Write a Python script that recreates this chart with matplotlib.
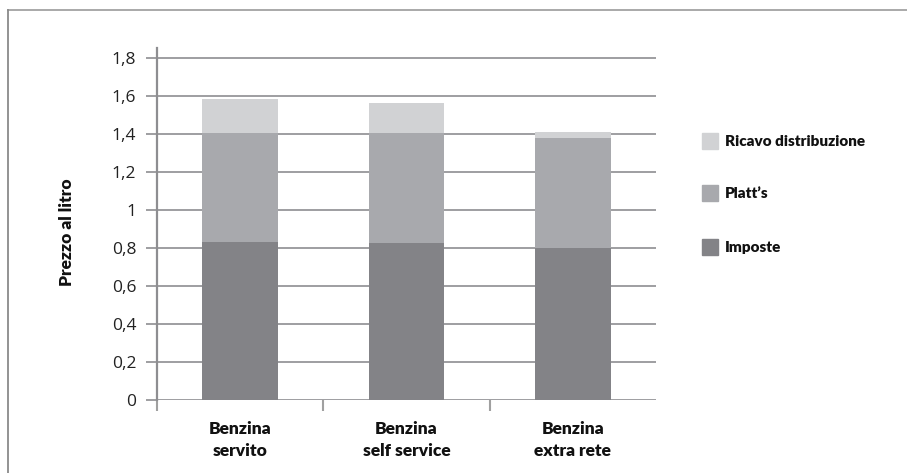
import matplotlib
matplotlib.use("Agg")
import matplotlib.pyplot as plt
from matplotlib.patches import Rectangle
from matplotlib.lines import Line2D
import numpy as np

categories = ["Benzina\nservito", "Benzina\nself service", "Benzina\nextra rete"]
imposte = [0.832, 0.826, 0.800]
platts = [0.575, 0.581, 0.580]
ricavo = [0.177, 0.156, 0.032]
legend_labels = ["Ricavo distribuzione", "Platt\u2019s", "Imposte"]
yticks = [0, 0.2, 0.4, 0.6, 0.8, 1.0, 1.2, 1.4, 1.6, 1.8]
ytick_labels = ["0", "0,2", "0,4", "0,6", "0,8", "1", "1,2", "1,4", "1,6", "1,8"]
ylabel = "Prezzo al litro"

c_imp = "#838387"
c_pla = "#a8a9ad"
c_ric = "#d1d2d4"
grid_c = "#8e8e91"
reg_font = ["Open Sans", "DejaVu Sans"]
bold_font = ["Lato", "DejaVu Sans"]

fig = plt.figure(figsize=(9.07, 4.73), dpi=100)
W, H = 907, 473

# outer frame (top and left lines)
fig.add_artist(Line2D([7.5 / W, 1.0], [1 - 10.5 / H, 1 - 10.5 / H], color="#a3a3a3", lw=1.3))
fig.add_artist(Line2D([7.5 / W, 7.5 / W], [0, 1 - 10.5 / H], color="#8a8a8a", lw=1.3))

ax = fig.add_axes([157 / W, 73 / H, (656 - 157) / W, (400 - 48) / H])
x = np.arange(len(categories))
w = 0.455
ax.bar(x, imposte, w, color=c_imp, zorder=3)
ax.bar(x, platts, w, bottom=imposte, color=c_pla, zorder=3)
bot2 = [a + b for a, b in zip(imposte, platts)]
ax.bar(x, ricavo, w, bottom=bot2, color=c_ric, zorder=3)

ax.set_xlim(-0.5, 2.5)
ax.set_ylim(0, 1.853)
ax.set_yticks(yticks)
ax.set_yticklabels(ytick_labels, fontfamily=reg_font, fontsize=12.5, color="#222222")
for yv in yticks:
    ax.axhline(yv, color=grid_c, lw=1.2, zorder=1)

ax.set_xticks(x)
ax.set_xticklabels(categories, fontfamily=bold_font, fontweight="heavy", fontsize=12.5,
                   color="#111111", linespacing=1.5)
ax.tick_params(axis="x", length=0, pad=15)
ax.tick_params(axis="y", length=8, width=1.2, color=grid_c, pad=7)
# ticks at category boundaries
ax.set_xticks([-0.5, 0.5, 1.5], minor=True)
ax.tick_params(axis="x", which="minor", length=8, width=1.5, color="#a0a0a0", direction="out")

for s in ["top", "right", "bottom"]:
    ax.spines[s].set_visible(False)
ax.spines["left"].set_color("#8e8e91")
ax.spines["left"].set_linewidth(1.6)

fig.text(67 / W, 1 - 232 / H, ylabel, rotation=90, ha="center", va="center",
         fontfamily=bold_font, fontweight="heavy", fontsize=12.5, color="#111111")

# legend
leg_colors = [c_ric, c_pla, c_imp]
leg_y = [141, 193, 247]
for lab, col, yy in zip(legend_labels, leg_colors, leg_y):
    fig.add_artist(Rectangle((702 / W, 1 - (yy + 8) / H), 16 / W, 16 / H,
                             color=col, transform=fig.transFigure))
    fig.text(725 / W, 1 - yy / H, lab, ha="left", va="center",
             fontfamily=bold_font, fontweight="heavy", fontsize=11, color="#111111")

fig.savefig("out.png", dpi=100)
